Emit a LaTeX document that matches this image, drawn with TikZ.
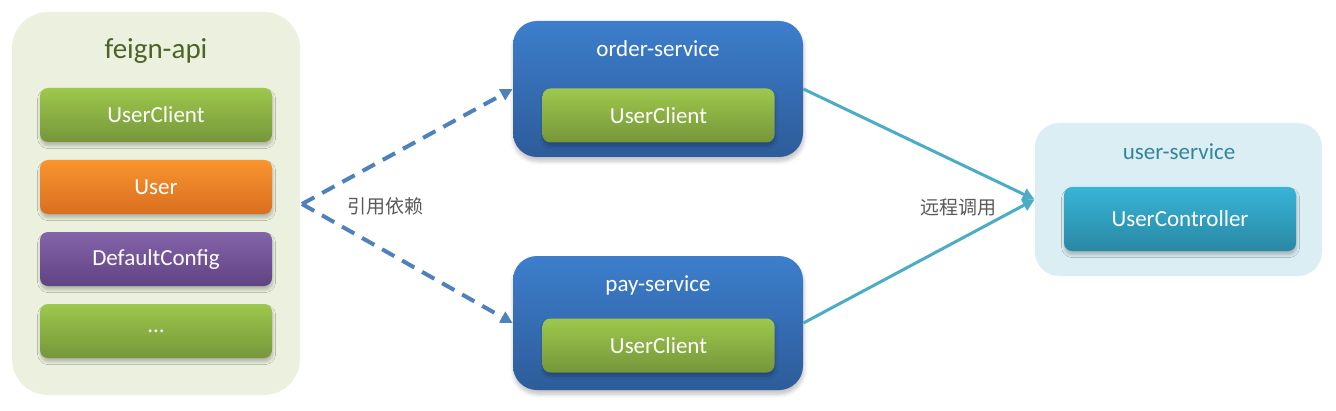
\documentclass[tikz,border=0pt]{standalone}
\usepackage{fontspec}
\setmainfont{Carlito}
\newfontfamily\cjk{Noto Sans CJK SC}
\usetikzlibrary{arrows.meta,shadows.blur}
\definecolor{feignbg}{HTML}{EBF1DE}
\definecolor{feigntitle}{HTML}{4F6228}
\definecolor{grtop}{HTML}{9DC84C}
\definecolor{grbot}{HTML}{76963A}
\definecolor{ortop}{HTML}{F9942F}
\definecolor{orbot}{HTML}{D96F1F}
\definecolor{putop}{HTML}{8464AA}
\definecolor{pubot}{HTML}{604383}
\definecolor{bltop}{HTML}{3D7ECC}
\definecolor{blbot}{HTML}{2D5C9A}
\definecolor{usbg}{HTML}{DBEEF4}
\definecolor{ustitle}{HTML}{31859C}
\definecolor{tetop}{HTML}{37B4D7}
\definecolor{tebot}{HTML}{2A88A4}
\definecolor{dashc}{HTML}{4F81BD}
\definecolor{solidc}{HTML}{4BACC6}
\definecolor{labc}{HTML}{595959}
\tikzset{
  inbox/.style={rectangle, rounded corners=4pt, minimum width=116pt, minimum height=27pt,
    text=white, font=\fontsize{11.5}{13}\selectfont, inner sep=0pt,
    blur shadow={shadow xshift=0.3pt, shadow yshift=-1.8pt, shadow blur radius=1.5pt, shadow blur steps=6, shadow opacity=25}},
  greenbox/.style={inbox, top color=grtop, bottom color=grbot},
  orangebox/.style={inbox, top color=ortop, bottom color=orbot},
  purplebox/.style={inbox, top color=putop, bottom color=pubot},
  tealbox/.style={inbox, top color=tetop, bottom color=tebot, minimum height=32pt},
  svcbox/.style={rectangle, rounded corners=12pt, minimum width=145pt, minimum height=68pt,
    top color=bltop, bottom color=blbot, inner sep=0pt,
    blur shadow={shadow xshift=0.3pt, shadow yshift=-2pt, shadow blur radius=2pt, shadow blur steps=6, shadow opacity=25}},
  svctitle/.style={text=white, font=\fontsize{11.5}{13}\selectfont, inner sep=0pt},
  deparrow/.style={draw=dashc, line width=2pt, dash pattern=on 7pt off 4.5pt,
    -{Triangle[length=6pt,width=6pt]}},
  callarrow/.style={draw=solidc, line width=1.5pt, -{Triangle[length=6pt,width=6pt]}},
  lab/.style={text=labc, font=\cjk\fontsize{9.5}{11}\selectfont, inner sep=0pt}
}
\begin{document}
\begin{tikzpicture}[x=0.5pt,y=-0.5pt]
\useasboundingbox (0,0) rectangle (1336,411);
% feign-api
\node[rectangle, rounded corners=18pt, fill=feignbg, minimum width=144pt, minimum height=191.5pt, inner sep=0pt] (feign) at (156,203.5) {};
\node[text=feigntitle, font=\fontsize{14.5}{16}\selectfont, inner sep=0pt] (feigntitle) at (156,51) {feign-api};
\node[greenbox] (fuc) at (156,115) {UserClient};
\node[orangebox] (fuser) at (156,187) {User};
\node[purplebox] (fdc) at (156,259) {DefaultConfig};
\node[greenbox] (fdots) at (156,331) {...};
% order-service
\node[svcbox] (order) at (658,89) {};
\node[svctitle] (ordertitle) at (658,49) {order-service};
\node[greenbox] (ouc) at (658.5,115.5) {UserClient};
% pay-service
\node[svcbox, minimum height=67pt] (pay) at (658,323) {};
\node[svctitle] (paytitle) at (658,285) {pay-service};
\node[greenbox] (puc) at (658.5,345.5) {UserClient};
% user-service
\node[rectangle, rounded corners=12pt, fill=usbg, minimum width=143.5pt, minimum height=76.5pt, inner sep=0pt] (user) at (1178.5,199.5) {};
\node[text=ustitle, font=\fontsize{11.5}{13}\selectfont, inner sep=0pt] (usertitle) at (1179,152) {user-service};
\node[tealbox] (uctrl) at (1180,219) {UserController};
% connectors
\coordinate (apex) at (302,204);
\draw[deparrow] (apex) -- (order.west);
\draw[deparrow] (apex) -- (pay.west);
\node[lab] (lab1) at (385,206) {引用依赖};
\draw[callarrow] (order.east) -- (user.west);
\draw[callarrow] (pay.east) -- (user.west);
\node[lab] (lab2) at (958,207) {远程调用};
\end{tikzpicture}
\end{document}
